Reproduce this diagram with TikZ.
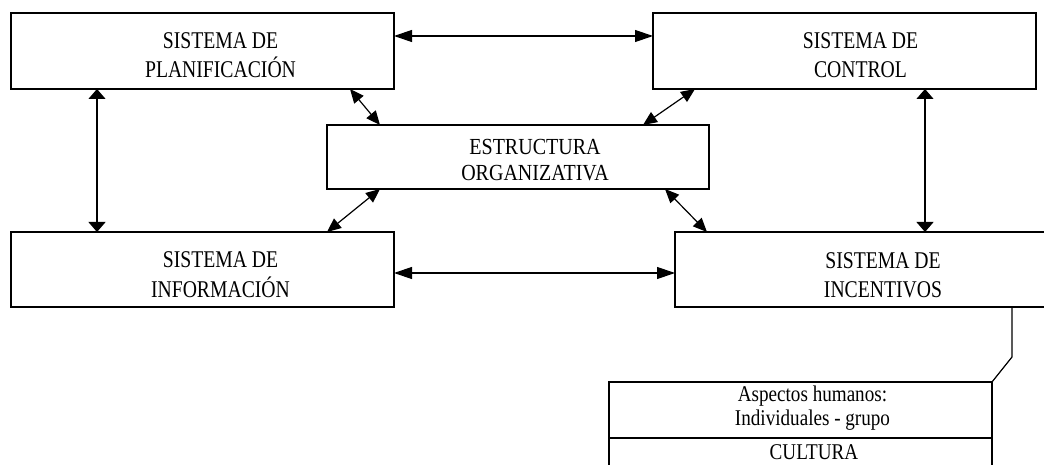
\documentclass[tikz,border=0pt]{standalone}
\usepackage{fontspec}
\setmainfont{Liberation Serif}
\newfontfamily\boxfont{Liberation Serif}[FakeStretch=0.82]
\newfontfamily\estfont{Liberation Serif}[FakeStretch=0.87]
\newfontfamily\smallfont{Liberation Serif}[FakeStretch=0.85]
\usetikzlibrary{arrows.meta}
\begin{document}
\begin{tikzpicture}[x=1pt,y=-1pt,
  box/.style={draw, line width=1.4pt, inner sep=0pt, outer sep=0pt},
  lbl/.style={font=\boxfont\fontsize{24}{29.5}\selectfont, align=center, inner sep=0pt},
  elbl/.style={font=\estfont\fontsize{23}{26}\selectfont, align=center, inner sep=0pt},
  slbl/.style={font=\smallfont\fontsize{22.5}{24}\selectfont, align=center, inner sep=0pt},
  varr/.style={{Triangle[length=10pt,width=17pt]}-{Triangle[length=10pt,width=17pt]}, line width=1.2pt},
  harr/.style={{Triangle[length=18pt,width=12pt]}-{Triangle[length=18pt,width=12pt]}, line width=1.2pt},
  darr/.style={{Triangle[length=14pt,width=12pt]}-{Triangle[length=14pt,width=12pt]}, line width=1.2pt},
  link/.style={line width=1.2pt}]
\useasboundingbox (0,0) rectangle (1044,465);
\clip (0,0) rectangle (1044,465);
\fill[white] (0,0) rectangle (1044,465);
% boxes
\node[box, minimum width=383pt, minimum height=76pt] (plan) at (202.5,51) {};
\node[box, minimum width=383pt, minimum height=76pt] (ctrl) at (844.5,51) {};
\node[box, minimum width=382pt, minimum height=64pt] (est) at (518,157) {};
\node[box, minimum width=383pt, minimum height=75pt] (info) at (202.5,269.5) {};
\node[box, minimum width=382pt, minimum height=75pt] (inc) at (866,269.5) {};
\node[box, minimum width=383pt, minimum height=56pt] (asp) at (800.5,410) {};
\node[box, minimum width=383pt, minimum height=42pt] (cult) at (800.5,459) {};
% texts
\node[lbl] (planT) at (220.5,55) {SISTEMA DE\\PLANIFICACIÓN};
\node[lbl] (ctrlT) at (860.5,55) {SISTEMA DE\\CONTROL};
\node[elbl] (estT) at (535,160) {ESTRUCTURA\\ORGANIZATIVA};
\node[lbl] (infoT) at (220.5,274.5) {SISTEMA DE\\INFORMACIÓN};
\node[lbl] (incT) at (883,275) {SISTEMA DE\\INCENTIVOS};
\node[slbl] (aspT) at (812.5,408.5) {Aspectos humanos:\\Individuales - grupo};
\node[slbl] (cultT) at (814,452.5) {CULTURA};
% arrows
\draw[harr] ([yshift=-23pt]plan.north east) -- ([yshift=-23pt]ctrl.north west);
\draw[harr] ([yshift=-41pt]info.north east) -- ([yshift=-41pt]inc.north west);
\draw[varr] ([xshift=86pt]plan.south west) -- ([xshift=86pt]info.north west);
\draw[varr] ([xshift=272pt]ctrl.south west) -- ([xshift=250pt]inc.north west);
\draw[darr] ([xshift=339pt]plan.south west) -- ([xshift=53pt]est.north west);
\draw[darr] ([xshift=42pt]ctrl.south west) -- ([xshift=-66pt]est.north east);
\draw[darr] ([xshift=53pt]est.south west) -- ([xshift=-67pt]info.north east);
\draw[darr] ([xshift=-44pt]est.south east) -- ([xshift=32pt]inc.north west);
% link to the human aspects box
\coordinate (bend) at (1012,357);
\draw[link] ([xshift=337pt]inc.south west) -- (bend) -- (asp.north east);
\end{tikzpicture}
\end{document}
